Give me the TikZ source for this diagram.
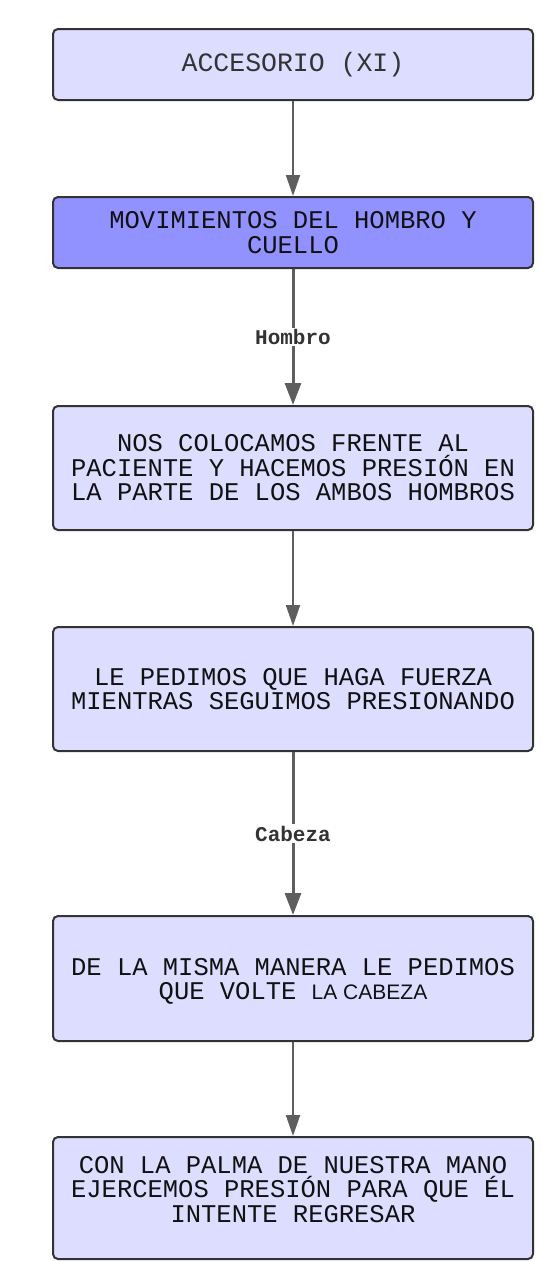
\documentclass[tikz,border=0pt]{standalone}
\usepackage{fontspec}
\setmainfont{Liberation Mono}
\newfontfamily\sansf{Liberation Sans}
\usetikzlibrary{arrows.meta}
\definecolor{boxfill}{HTML}{DDDDFF}
\definecolor{boxfillB}{HTML}{9191FF}
\definecolor{boxline}{HTML}{333333}
\definecolor{arrowc}{HTML}{5E5E5E}
\definecolor{txt}{HTML}{111111}
\begin{document}
\begin{tikzpicture}[x=1pt,y=1pt,
  box/.style={draw=boxline, line width=2pt, rounded corners=5pt, fill=boxfill,
    minimum width=480pt, align=center, text=txt,
    font=\fontsize{25.5}{24.5}\selectfont, inner sep=0pt},
  boxtext/.style={align=center, text=txt, font=\fontsize{25.5}{24.5}\selectfont, inner sep=0pt},
  conn/.style={draw=arrowc, line width=2pt, -{Triangle[length=21pt,width=14pt]}},
  lconn/.style={draw=arrowc, line width=3pt, -{Triangle[length=22pt,width=16pt]}},
  elabel/.style={fill=white, font=\bfseries\fontsize{21}{21}\selectfont, text=boxline, inner sep=1.5pt}]
\useasboundingbox (0,0) rectangle (541,-1261);
\node[box, minimum height=71pt, text=boxline, font=\fontsize{26.5}{24.5}\selectfont] (a) at (293,-64.5) {ACCESORIO (XI)};
\node[box, minimum height=71pt, fill=boxfillB] (b) at (293,-232.5) {MOVIMIENTOS DEL HOMBRO Y\\CUELLO};
\node[box, minimum height=124pt] (c) at (293,-468) {NOS COLOCAMOS FRENTE AL\\PACIENTE Y HACEMOS PRESIÓN EN\\LA PARTE DE LOS AMBOS HOMBROS};
\node[box, minimum height=124pt] (d) at (293,-689) {LE PEDIMOS QUE HAGA FUERZA\\MIENTRAS SEGUIMOS PRESIONANDO};
\node[box, minimum height=125pt] (e) at (293,-978.5) {};
\node[boxtext] (et) at (293,-981.5) {DE LA MISMA MANERA LE PEDIMOS\\QUE VOLTE {\sansf\fontsize{21}{24.5}\selectfont LA CABEZA}};
\node[box, minimum height=122pt] (f) at (293,-1198) {};
\node[boxtext] (ft) at (293,-1189.5) {CON LA PALMA DE NUESTRA MANO\\EJERCEMOS PRESIÓN PARA QUE ÉL\\INTENTE REGRESAR};
\draw[conn] (a.south) -- (b.north);
\draw[lconn] (b.south) -- node[elabel] (l1) {Hombro} (c.north);
\draw[conn] (c.south) -- (d.north);
\draw[lconn] (d.south) -- node[elabel] (l2) {Cabeza} (e.north);
\draw[conn] (e.south) -- (f.north);
\end{tikzpicture}
\end{document}
